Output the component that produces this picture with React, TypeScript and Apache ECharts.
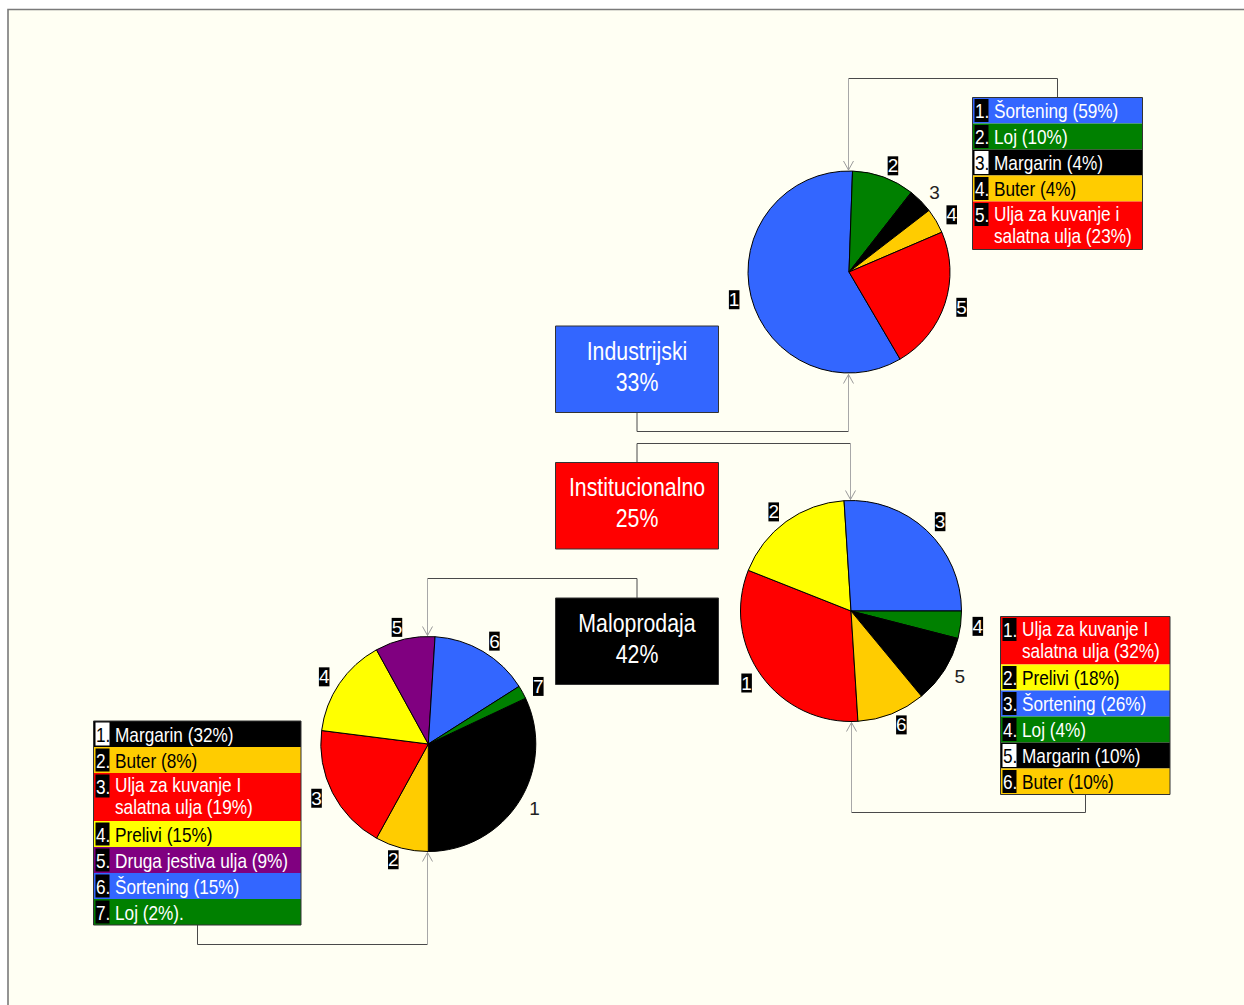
import React, { useEffect, useRef } from "react";
import * as echarts from "echarts";

const FONT = "'Liberation Sans', Arial, sans-serif";
const NARROW = 0.82;

// ---- Data ----
const segmentNames = ["Industrijski", "Institucionalno", "Maloprodaja"];
const segmentShares = [33, 25, 42];
const segmentColors = ["#3366FF", "#FF0000", "#000000"];

const categoryColors: Record<string, string> = {
  "Šortening": "#3366FF",
  "Loj": "#008000",
  "Margarin": "#000000",
  "Buter": "#FFCC00",
  "Ulja za kuvanje i salatna ulja": "#FF0000",
  "Prelivi": "#FFFF00",
  "Druga jestiva ulja": "#800080",
};

const indNames = ["Šortening", "Loj", "Margarin", "Buter", "Ulja za kuvanje i salatna ulja"];
const indValues = [59, 10, 4, 4, 23];
const indLegend = ["Šortening (59%)", "Loj (10%)", "Margarin (4%)", "Buter (4%)", "Ulja za kuvanje i\nsalatna ulja (23%)"];

const instNames = ["Ulja za kuvanje i salatna ulja", "Prelivi", "Šortening", "Loj", "Margarin", "Buter"];
const instValues = [32, 18, 26, 4, 10, 10];
const instLegend = ["Ulja za kuvanje I\nsalatna ulja (32%)", "Prelivi (18%)", "Šortening (26%)", "Loj (4%)", "Margarin (10%)", "Buter (10%)"];

const retNames = ["Margarin", "Buter", "Ulja za kuvanje i salatna ulja", "Prelivi", "Druga jestiva ulja", "Šortening", "Loj"];
const retValues = [32, 8, 19, 15, 9, 15, 2];
const retLegend = ["Margarin (32%)", "Buter (8%)", "Ulja za kuvanje I\nsalatna ulja (19%)", "Prelivi (15%)", "Druga jestiva ulja (9%)", "Šortening (15%)", "Loj (2%)."];

const darkText = new Set(["Buter", "Prelivi"]);

function pieSeries(names: string[], values: number[], center: number[], radius: number, startAngle: number) {
  return {
    type: "pie",
    center,
    radius,
    startAngle,
    clockwise: true,
    silent: true,
    avoidLabelOverlap: false,
    itemStyle: { borderColor: "#000", borderWidth: 1 },
    label: {
      show: true,
      position: "outside",
      formatter: (p: any) => String(p.dataIndex + 1),
      fontFamily: FONT,
      fontSize: 19,
      lineHeight: 19,
      color: "#fff",
      backgroundColor: "#000",
      padding: [0, 0, 0, 0],
      distanceToLabelLine: 0,
    },
    labelLine: { show: false, length: 12, length2: 0 },
    data: names.map((n, i) => ({
      name: n,
      value: values[i],
      itemStyle: { color: categoryColors[n] },
      label: n === "Margarin" ? { backgroundColor: "transparent", color: "#222" } : undefined,
    })),
  };
}

function txt(text: string, x: number, y: number, size: number, fill: string, align = "left", lineHeight?: number) {
  return {
    type: "text",
    z: 5,
    x,
    y,
    scaleX: NARROW,
    style: {
      text,
      x: 0,
      y: 0,
      fill,
      fontFamily: FONT,
      fontSize: size,
      lineHeight: lineHeight || size,
      align,
      textAlign: align,
      verticalAlign: "middle",
      textVerticalAlign: "middle",
    },
  };
}

function legendBlock(x: number, y: number, w: number, names: string[], labels: string[]) {
  const els: any[] = [];
  let cy = y;
  labels.forEach((lab, i) => {
    const lines = lab.split("\n").length;
    const h = lines === 1 ? 26 : 48;
    const name = names[i];
    const inv = name === "Margarin";
    els.push({ type: "rect", z: 4, shape: { x, y: cy, width: w, height: h }, style: { fill: categoryColors[name] } });
    els.push({ type: "rect", z: 4, shape: { x: x + 2, y: cy + 1.5, width: 14, height: 23 }, style: { fill: inv ? "#fff" : "#000" } });
    els.push(txt(`${i + 1}.`, x + 2.5, cy + 13.5, 21, inv ? "#000" : "#fff"));
    els.push(txt(lab, x + 21.5, cy + (lines === 1 ? 13.5 : 23), 21, darkText.has(name) ? "#000" : "#fff", "left", 22));
    cy += h;
  });
  els.push({ type: "rect", z: 6, shape: { x, y, width: w, height: cy - y }, style: { fill: "none", stroke: "#333", lineWidth: 1 } });
  return els;
}

function connector(pts: number[][], dir: number) {
  const n = pts.length;
  const tip = pts[n - 1];
  return [
    { type: "polyline", z: 3, shape: { points: pts.slice(0, n - 1) }, style: { stroke: "#4a4a4a", lineWidth: 1, fill: "none" } },
    { type: "polyline", z: 3, shape: { points: [pts[n - 2], tip] }, style: { stroke: "#a8a8a8", lineWidth: 1, fill: "none" } },
    {
      type: "polyline",
      z: 3,
      shape: { points: [[tip[0] - 5, tip[1] - 9 * dir], tip, [tip[0] + 5, tip[1] - 9 * dir]] },
      style: { stroke: "#9a9a9a", lineWidth: 1, fill: "none" },
    },
  ];
}

function segmentBox(i: number, y: number) {
  const x = 555.5, w = 163, h = 86.5;
  return [
    { type: "rect", z: 4, shape: { x, y, width: w, height: h }, style: { fill: segmentColors[i], stroke: "#333", lineWidth: 1 } },
    txt(`${segmentNames[i]}\n${segmentShares[i]}%`, x + w / 2, y + h / 2 - 3.5, 26, "#fff", "center", 31),
  ];
}

export default function App() {
  const ref = useRef<HTMLDivElement>(null);
  useEffect(() => {
    if (!ref.current) return;
    const chart = echarts.init(ref.current, undefined, { renderer: "svg" });
    const graphics: any[] = [
      { type: "rect", z: -10, shape: { x: 8, y: 9.5, width: 1400, height: 1200 }, style: { fill: "#FFFFF3", stroke: "#7a7a7a", lineWidth: 1.6 } },
      ...segmentBox(0, 326),
      ...segmentBox(1, 462.5),
      ...segmentBox(2, 598),
      ...legendBlock(972.5, 97.5, 170, indNames, indLegend),
      ...legendBlock(1000.5, 616.5, 169.5, instNames, instLegend),
      ...legendBlock(93.5, 721, 207.5, retNames, retLegend),
      ...connector([[637, 412.5], [637, 431.5], [848.5, 431.5], [848.5, 374.5]], -1),
      ...connector([[637, 462.5], [637, 443.5], [850.5, 443.5], [850.5, 499.5]], 1),
      ...connector([[637, 598], [637, 578.5], [427.5, 578.5], [427.5, 635.5]], 1),
      ...connector([[1057.5, 97.5], [1057.5, 78.5], [848.5, 78.5], [848.5, 170]], 1),
      ...connector([[1085.5, 794.5], [1085.5, 812.5], [851.5, 812.5], [851.5, 722.5]], -1),
      ...connector([[197.5, 925], [197.5, 944.5], [427.5, 944.5], [427.5, 852.5]], -1),
    ];
    chart.setOption({
      animation: false,
      backgroundColor: "#ffffff",
      graphic: { elements: graphics },
      series: [
        pieSeries(indNames, indValues, [849, 272], 101, 300.4),
        pieSeries(instNames, instValues, [851, 611], 110.5, 273.6),
        pieSeries(retNames, retValues, [428.3, 744], 107.5, 25.2),
      ],
    });
    return () => chart.dispose();
  }, []);
  return <div ref={ref} style={{ position: "fixed", left: 0, top: 0, width: 1244, height: 1005 }} />;
}
